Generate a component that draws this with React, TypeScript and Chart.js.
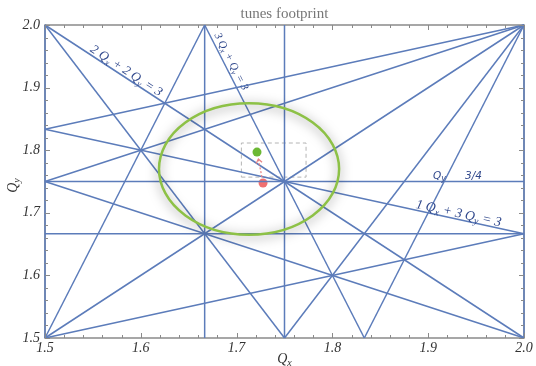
import { useEffect, useRef } from "react";
import { Chart, registerables } from "chart.js";

Chart.register(...registerables);

// Tune-diagram window
const qxLimits = [1.5, 2.0];
const qyLimits = [1.5, 2.0];
const tickStep = 0.1;
const minorStep = 0.02;

// Resonance conditions  m·Qx + n·Qy = p
const resonanceM = [2, 1, 3, 4, 0, 0, 1, 2, 2, 1, 1, 3, 3, 3, 1, 1, 1, 2];
const resonanceN = [0, 0, 0, 0, 3, 4, -1, 1, -1, 2, -2, 1, -1, -1, 3, -3, -3, 2];
const resonanceP = [3, 2, 5, 7, 5, 7, 0, 5, 2, 5, -2, 7, 3, 4, 7, -3, -4, 7];

// Footprint box and working points (nominal, shifted)
const footprintQx = [1.705, 1.7725];
const footprintQy = [1.757, 1.8115];
const tuneQx = [1.7276, 1.7213];
const tuneQy = [1.7476, 1.797];

// Tune-spread ellipse: centre and half-axes
const spreadCenter = [1.713, 1.77];
const spreadRadius = [0.094, 0.105];

// Resonance annotations
const lineLabels = ["2 Q_x + 2 Q_y = 3", "3 Q_x + Q_y = 3", "1 Q_x + 3 Q_y = 3"];
const lineLabelResonance = [17, 11, 14];

const LINE_BLUE = "rgb(92,124,186)";
const TEXT_BLUE = "rgb(48,72,140)";
const SERIF = '"Liberation Serif", "DejaVu Serif", serif';

function segment(m: number, n: number, p: number) {
  const [x0, x1] = qxLimits;
  const [y0, y1] = qyLimits;
  const eps = 1e-9;
  const pts: { x: number; y: number }[] = [];
  if (n !== 0) {
    for (const x of [x0, x1]) {
      const y = (p - m * x) / n;
      if (y >= y0 - eps && y <= y1 + eps) pts.push({ x, y });
    }
  }
  if (m !== 0) {
    for (const y of [y0, y1]) {
      const x = (p - n * y) / m;
      if (x >= x0 - eps && x <= x1 + eps) pts.push({ x, y });
    }
  }
  const uniq: { x: number; y: number }[] = [];
  for (const q of pts) {
    if (!uniq.some((u) => Math.abs(u.x - q.x) < 1e-7 && Math.abs(u.y - q.y) < 1e-7)) uniq.push(q);
  }
  uniq.sort((a, b) => a.x - b.x || a.y - b.y);
  return uniq.slice(0, 2);
}

// Draws text where "_c" marks a subscript character; returns width.
function richText(ctx: CanvasRenderingContext2D, text: string, size: number, family: string, draw: boolean) {
  let x = 0;
  let i = 0;
  while (i < text.length) {
    if (text[i] === "_" && i + 1 < text.length) {
      ctx.font = `italic ${Math.round(size * 0.72)}px ${family}`;
      if (draw) ctx.fillText(text[i + 1], x, size * 0.22);
      x += ctx.measureText(text[i + 1]).width;
      i += 2;
    } else {
      ctx.font = `italic ${size}px ${family}`;
      if (draw) ctx.fillText(text[i], x, 0);
      x += ctx.measureText(text[i]).width;
      i += 1;
    }
  }
  return x;
}

const decor = {
  id: "decor",
  beforeDatasetsDraw(chart: any) {
    const { ctx, chartArea: a } = chart;
    ctx.save();
    ctx.strokeStyle = "#8a8a8a";
    ctx.lineWidth = 1.5;
    ctx.strokeRect(a.left, a.top, a.right - a.left, a.bottom - a.top);
    ctx.restore();
  },
  afterDatasetsDraw(chart: any) {
    const { ctx, chartArea: a } = chart;
    const xs = chart.scales.x;
    const ys = chart.scales.y;

    // tick marks, inward on all four edges
    ctx.save();
    ctx.strokeStyle = "#8a8a8a";
    ctx.lineWidth = 1;
    const nMinor = Math.round((qxLimits[1] - qxLimits[0]) / minorStep);
    for (let k = 0; k <= nMinor; k++) {
      const major = k % Math.round(tickStep / minorStep) === 0;
      const len = major ? 5 : 3;
      const px = Math.round(xs.getPixelForValue(qxLimits[0] + k * minorStep)) + 0.5;
      const py = Math.round(ys.getPixelForValue(qyLimits[0] + k * minorStep)) + 0.5;
      ctx.beginPath();
      ctx.moveTo(px, a.bottom);
      ctx.lineTo(px, a.bottom - len);
      ctx.moveTo(px, a.top);
      ctx.lineTo(px, a.top + len);
      ctx.moveTo(a.left, py);
      ctx.lineTo(a.left + len, py);
      ctx.moveTo(a.right, py);
      ctx.lineTo(a.right - len, py);
      ctx.stroke();
    }
    ctx.restore();

    // tune-spread ellipse with soft shadow
    const cx = xs.getPixelForValue(spreadCenter[0]);
    const cy = ys.getPixelForValue(spreadCenter[1]);
    const rx = Math.abs(xs.getPixelForValue(spreadCenter[0] + spreadRadius[0]) - cx);
    const ry = Math.abs(ys.getPixelForValue(spreadCenter[1] + spreadRadius[1]) - cy);
    ctx.save();
    ctx.shadowColor = "rgba(0,0,0,0.5)";
    ctx.shadowBlur = 11;
    ctx.shadowOffsetY = 2;
    ctx.strokeStyle = "rgb(141,193,70)";
    ctx.lineWidth = 2.5;
    ctx.beginPath();
    ctx.ellipse(cx, cy, rx, ry, 0, 0, Math.PI * 2);
    ctx.stroke();
    ctx.restore();

    // dashed arrow from nominal to shifted tune
    const ax = xs.getPixelForValue(tuneQx[0]);
    const ay = ys.getPixelForValue(tuneQy[0]);
    const bx = xs.getPixelForValue(tuneQx[1]);
    const by = ys.getPixelForValue(tuneQy[1]);
    const d = Math.hypot(bx - ax, by - ay);
    const ux = (bx - ax) / d;
    const uy = (by - ay) / d;
    const sx = ax + ux * 6, sy = ay + uy * 6;
    const ex = bx - ux * 7, ey = by - uy * 7;
    ctx.save();
    ctx.strokeStyle = "rgb(232,130,130)";
    ctx.lineWidth = 1.2;
    ctx.setLineDash([2, 2]);
    ctx.beginPath();
    ctx.moveTo(sx, sy);
    ctx.lineTo(ex, ey);
    ctx.stroke();
    ctx.setLineDash([]);
    ctx.beginPath();
    ctx.moveTo(ex - ux * 4 + uy * 3, ey - uy * 4 - ux * 3);
    ctx.lineTo(ex, ey);
    ctx.lineTo(ex - ux * 4 - uy * 3, ey - uy * 4 + ux * 3);
    ctx.stroke();
    ctx.restore();

    // resonance labels along their lines
    const startQx = [1.545, 1.673, 1.886];
    const lift = [2.5, 4, 2];
    const sizes = [13, 11, 13.5];
    ctx.save();
    ctx.fillStyle = TEXT_BLUE;
    ctx.textBaseline = "alphabetic";
    ctx.textAlign = "left";
    lineLabels.forEach((label, i) => {
      const r = lineLabelResonance[i];
      const seg = segment(resonanceM[r], resonanceN[r], resonanceP[r]);
      const p0x = xs.getPixelForValue(seg[0].x), p0y = ys.getPixelForValue(seg[0].y);
      const p1x = xs.getPixelForValue(seg[1].x), p1y = ys.getPixelForValue(seg[1].y);
      const ang = Math.atan2(p1y - p0y, p1x - p0x);
      const q = startQx[i];
      const qy = (resonanceP[r] - resonanceM[r] * q) / resonanceN[r];
      ctx.save();
      ctx.translate(xs.getPixelForValue(q), ys.getPixelForValue(qy));
      ctx.rotate(ang);
      ctx.translate(0, -lift[i]);
      richText(ctx, label, sizes[i], SERIF, true);
      ctx.restore();
    });

    // horizontal Qy = 7/4 marker
    const hy = ys.getPixelForValue(1.75) - 2.5;
    ctx.save();
    ctx.translate(xs.getPixelForValue(1.905), hy);
    richText(ctx, "Q_y", 10.5, '"DejaVu Sans", sans-serif', true);
    ctx.font = "italic 10.5px \"DejaVu Sans\", sans-serif";
    ctx.fillText("3/4", 32, 0);
    ctx.restore();
    ctx.restore();
  },
  afterDraw(chart: any) {
    const { ctx, chartArea: a } = chart;
    ctx.save();
    ctx.fillStyle = "#777";
    ctx.font = `15px ${SERIF}`;
    ctx.textAlign = "center";
    ctx.textBaseline = "middle";
    ctx.fillText("tunes footprint", (a.left + a.right) / 2, 14);

    // axis titles
    ctx.fillStyle = "#333";
    ctx.textAlign = "left";
    ctx.textBaseline = "alphabetic";
    const wx = richText(ctx, "Q_x", 14, SERIF, false);
    ctx.save();
    ctx.translate((a.left + a.right) / 2 - wx / 2, 363);
    richText(ctx, "Q_x", 14, SERIF, true);
    ctx.restore();
    const wy = richText(ctx, "Q_y", 14, SERIF, false);
    ctx.save();
    ctx.translate(17, (a.top + a.bottom) / 2 + wy / 2 + 4);
    ctx.rotate(-Math.PI / 2);
    richText(ctx, "Q_y", 14, SERIF, true);
    ctx.restore();
    ctx.restore();
  },
};

export default function App() {
  const ref = useRef<HTMLCanvasElement | null>(null);

  useEffect(() => {
    if (!ref.current) return;
    const lines = resonanceM.map((m, i) => ({
      data: segment(m, resonanceN[i], resonanceP[i]),
      showLine: true,
      borderColor: LINE_BLUE,
      borderWidth: 1.5,
      pointRadius: 0,
      clip: 3,
    }));
    const box = {
      data: [
        { x: footprintQx[0], y: footprintQy[0] },
        { x: footprintQx[1], y: footprintQy[0] },
        { x: footprintQx[1], y: footprintQy[1] },
        { x: footprintQx[0], y: footprintQy[1] },
        { x: footprintQx[0], y: footprintQy[0] },
      ],
      showLine: true,
      borderColor: "#b4b4b4",
      borderWidth: 1,
      borderDash: [4, 3],
      pointRadius: 0,
    };
    const dotColors = ["rgb(240,112,112)", "rgb(108,184,52)"];
    const dots = tuneQx.map((qx, i) => ({
      data: [{ x: qx, y: tuneQy[i] }],
      pointRadius: 4.5,
      pointBackgroundColor: dotColors[i],
      pointBorderWidth: 0,
      showLine: false,
    }));

    const tickFont = { family: SERIF, style: "italic" as const, size: 14 };
    const chart = new Chart(ref.current, {
      type: "scatter",
      data: { datasets: [...lines, box, ...dots] as any },
      options: {
        animation: false,
        responsive: false,
        events: [],
        layout: { padding: { left: 0, right: 12, top: 25, bottom: 0 } },
        plugins: { legend: { display: false }, tooltip: { enabled: false } },
        scales: {
          x: {
            type: "linear",
            min: qxLimits[0],
            max: qxLimits[1],
            ticks: {
              stepSize: tickStep,
              autoSkip: false,
              maxRotation: 0,
              padding: 2,
              color: "#333",
              font: tickFont,
              callback: (v: any) => Number(v).toFixed(1),
            },
            grid: { display: false, drawTicks: false },
            border: { display: false },
            afterFit: (s: any) => {
              s.height = 28;
            },
          },
          y: {
            type: "linear",
            min: qyLimits[0],
            max: qyLimits[1],
            ticks: {
              stepSize: tickStep,
              autoSkip: false,
              padding: 5,
              color: "#333",
              font: tickFont,
              callback: (v: any) => Number(v).toFixed(1),
            },
            grid: { display: false, drawTicks: false },
            border: { display: false },
            afterFit: (s: any) => {
              s.width = 45;
            },
          },
        },
      },
      plugins: [decor],
    });
    return () => chart.destroy();
  }, []);

  return (
    <div style={{ position: "fixed", left: 0, top: 0, width: 536, height: 366, background: "#fff" }}>
      <canvas ref={ref} width={536} height={366} style={{ display: "block" }} />
    </div>
  );
}
